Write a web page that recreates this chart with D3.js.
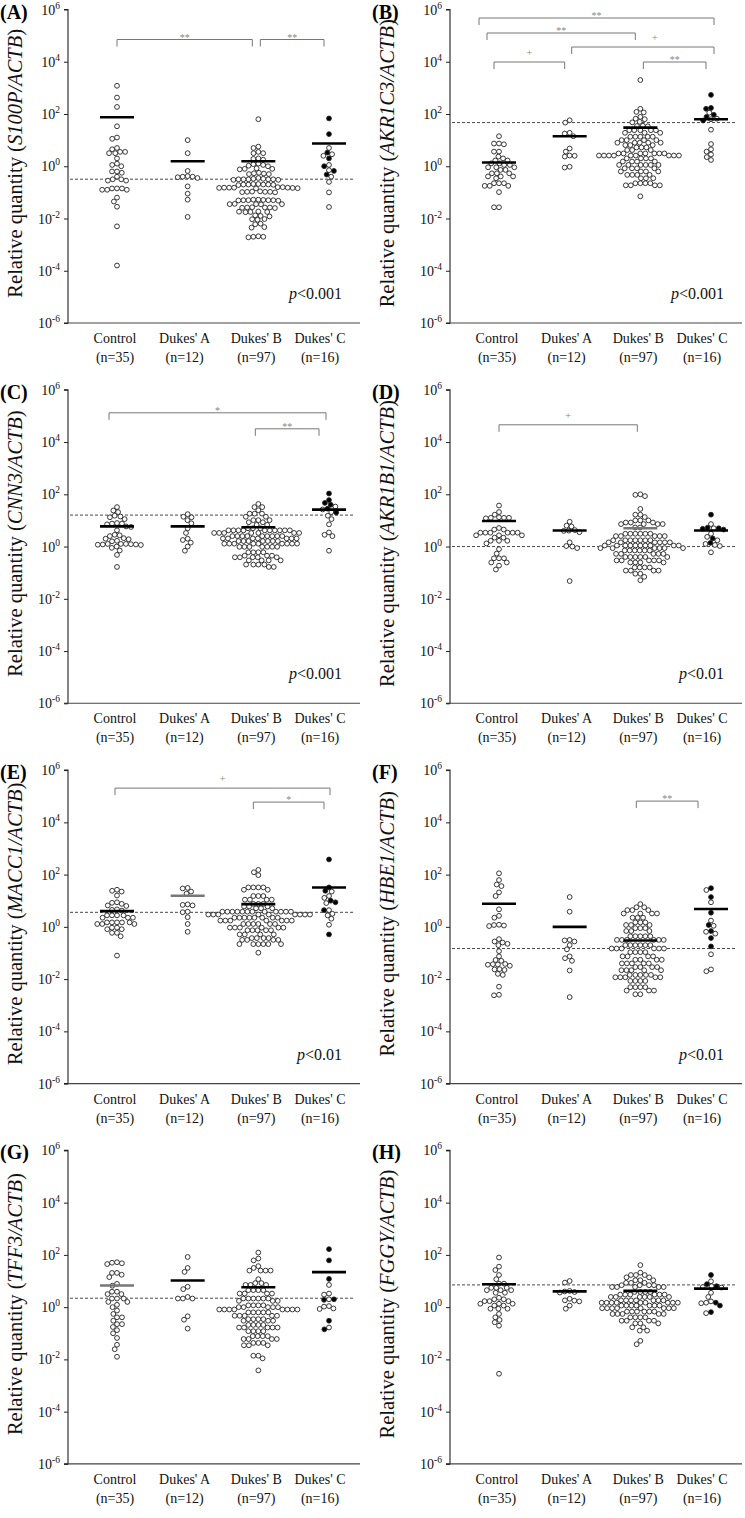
<!DOCTYPE html>
<meta charset="utf-8">
<script src="https://d3js.org/d3.v7.min.js"></script>
<style>
  body { margin: 0; background: #fff; }
  svg text { font-family: "Liberation Serif", "Times New Roman", serif; }
</style>
<div id="chart"></div>
<script>

// categories and labels
var groups = ["Control", "Dukes' A", "Dukes' B", "Dukes' C"];
var groupN = ["(n=35)", "(n=12)", "(n=97)", "(n=16)"];
var panelLetters = ["A", "B", "C", "D", "E", "F", "G", "H"];
var genes = ["S100P", "AKR1C3", "CNN3", "AKR1B1", "MACC1", "HBE1", "TFF3", "FGGY"];
var tickValues = [1e6, 1e4, 1e2, 1, 1e-2, 1e-4, 1e-6];
var tickExp = ["6", "4", "2", "0", "-2", "-4", "-6"];

// values are log10(relative quantity)
var S100P_control = [3.08,2.63,2.27,1.53,1.1,1.05,0.7,0.65,0.55,0.55,0.5,0.5,0.3,0.1,0.05,0,-0.2,-0.2,-0.25,-0.4,-0.5,-0.5,-0.55,-0.55,-0.85,-0.85,-0.9,-0.9,-0.85,-0.9,-1.2,-1.35,-1.55,-2.3,-3.8];
var S100P_dukesA = [1,0.5,-0.18,-0.38,-0.4,-0.4,-0.42,-0.45,-0.77,-1.05,-1.28,-1.94];
var S100P_dukesB = [1.8,0.75,0.7,0.55,0.5,0.5,0.3,0.28,0.25,0.1,0.08,0.05,0.02,0,-0.1,-0.08,-0.12,-0.1,-0.25,-0.28,-0.3,-0.27,-0.3,-0.45,-0.48,-0.5,-0.5,-0.52,-0.5,-0.48,-0.5,-0.52,-0.5,-0.68,-0.7,-0.72,-0.7,-0.68,-0.7,-0.71,-0.7,-0.82,-0.8,-0.83,-0.82,-0.84,-0.82,-0.8,-0.83,-0.82,-0.85,-0.98,-0.97,-1,-0.98,-0.96,-0.99,-0.98,-1.28,-1.3,-1.3,-1.32,-1.3,-1.29,-1.31,-1.3,-1.28,-1.45,-1.44,-1.46,-1.45,-1.45,-1.58,-1.57,-1.6,-1.58,-1.59,-1.58,-1.75,-1.73,-1.76,-1.75,-1.74,-1.9,-1.88,-1.92,-2.03,-2.02,-2.05,-2.2,-2.22,-2.35,-2.33,-2.7,-2.72,-2.68,-2.7];
var S100P_dukesC_open = [0.7,0.46,0.4,0.05,-0.15,-0.4,-0.6,-1,-1.56];
var S100P_dukesC_filled = [1.83,1.23,0.52,0.3,0,-0.18,-0.32];

var AKR1C3_control = [1.15,0.87,0.87,0.84,0.56,0.56,0.37,0.3,0.22,0.22,0.11,0.11,0.05,0.05,-0.04,-0.04,-0.04,-0.14,-0.14,-0.27,-0.27,-0.27,-0.39,-0.39,-0.39,-0.46,-0.65,-0.65,-0.65,-0.75,-0.75,-0.75,-0.99,-1.57,-1.57];
var AKR1C3_dukesA = [1.76,1.67,1.28,1.25,1.15,0.68,0.56,0.41,0.4,0.37,-0.02,-0.05];
var AKR1C3_dukesB = [3.3,2.2,2.08,2.06,1.89,1.82,1.8,1.7,1.68,1.54,1.55,1.53,1.38,1.38,1.38,1.38,1.38,1.28,1.28,1.28,1.13,1.13,1.13,1.13,1.13,1,1,1,1,0.9,0.9,0.9,0.9,0.9,0.81,0.81,0.81,0.72,0.72,0.72,0.62,0.62,0.62,0.49,0.49,0.49,0.49,0.49,0.49,0.49,0.41,0.41,0.41,0.41,0.41,0.41,0.41,0.41,0.41,0.3,0.3,0.3,0.3,0.18,0.18,0.18,0.18,0.05,0.05,0.05,0.05,0.05,0.05,-0.08,-0.08,-0.08,-0.08,-0.2,-0.2,-0.2,-0.2,-0.33,-0.33,-0.33,-0.33,-0.46,-0.46,-0.46,-0.65,-0.65,-0.65,-0.65,-0.73,-0.73,-0.73,-0.73,-1.15];
var AKR1C3_dukesC_open = [2.05,1.82,1.8,1.4,0.85,0.65,0.56,0.45,0.35,0.24];
var AKR1C3_dukesC_filled = [2.73,2.23,2.2,1.97,1.89,1.75];

var CNN3_control = [1.51,1.38,1.32,1.18,1.15,1.12,1.05,0.9,0.88,0.88,0.85,0.77,0.75,0.62,0.45,0.43,0.4,0.32,0.3,0.28,0.22,0.2,0.1,0.08,0.1,0.07,0.09,0.08,0.06,0.1,0,-0.05,-0.15,-0.32,-0.78];
var CNN3_dukesA = [1.24,1.14,1.12,1.01,0.89,0.7,0.52,0.3,0.25,0.15,0,-0.16];
var CNN3_dukesB = [1.63,1.51,1.51,1.39,1.26,1.26,1.26,1.14,1.14,1.01,1.01,1.01,0.93,0.93,0.83,0.83,0.7,0.7,0.7,0.62,0.62,0.62,0.62,0.62,0.62,0.62,0.62,0.62,0.62,0.52,0.52,0.52,0.52,0.52,0.52,0.52,0.4,0.4,0.4,0.4,0.4,0.4,0.4,0.4,0.4,0.31,0.31,0.31,0.31,0.31,0.31,0.31,0.21,0.21,0.21,0.21,0.21,0.21,0.21,0.11,0.11,0.11,0.11,0.11,0.11,0.11,0.11,0.11,-0.01,-0.01,-0.01,-0.01,-0.01,-0.01,-0.01,-0.22,-0.22,-0.22,-0.22,-0.35,-0.35,-0.35,-0.41,-0.41,-0.41,-0.41,-0.41,-0.53,-0.53,-0.53,-0.53,-0.69,-0.69,-0.69,-0.69,-0.78,-0.78];
var CNN3_dukesC_open = [1.53,1.42,1.32,1.18,1.05,0.85,0.54,0.45,0.4,-0.16];
var CNN3_dukesC_filled = [2.03,1.78,1.67,1.6,1.45,1.3];

var AKR1B1_control = [1.57,1.32,1.22,1.12,1.1,1.1,1.08,1.1,0.71,0.65,0.65,0.53,0.53,0.53,0.53,0.53,0.53,0.43,0.43,0.43,0.34,0.34,0.22,0.22,0.22,0.12,-0.1,-0.27,-0.45,-0.45,-0.45,-0.61,-0.61,-0.73,-0.88];
var AKR1B1_dukesA = [0.95,0.8,0.77,0.63,0.61,0.6,0.55,0.16,0.02,0,-0.06,-1.32];
var AKR1B1_dukesB = [2,1.98,1.93,1.44,1.22,1.22,1.13,1,1,1,0.92,0.92,0.92,0.86,0.86,0.86,0.86,0.73,0.73,0.49,0.49,0.49,0.49,0.49,0.49,0.4,0.4,0.4,0.4,0.4,0.24,0.24,0.24,0.24,0.24,0.24,0.24,0.16,0.16,0.16,0.16,0.16,0.16,0.04,0.04,0.04,0.04,0.04,0.04,0.04,0.04,0.04,0.04,-0.06,-0.06,-0.06,-0.06,-0.06,-0.06,-0.15,-0.15,-0.15,-0.15,-0.15,-0.15,-0.28,-0.28,-0.28,-0.28,-0.28,-0.4,-0.4,-0.4,-0.4,-0.4,-0.4,-0.53,-0.53,-0.53,-0.53,-0.53,-0.61,-0.61,-0.61,-0.61,-0.8,-0.8,-0.8,-0.8,-0.92,-0.92,-0.92,-0.92,-1.04,-1.04,-1.16,-1.29];
var AKR1B1_dukesC_open = [0.86,0.7,0.49,0.37,0.24,0.1,0.06,0.02,-0.22];
var AKR1B1_dukesC_filled = [1.22,0.72,0.7,0.68,0.65,0.31,0.14];

var MACC1_control = [1.42,1.38,1.35,1.2,0.94,0.92,0.88,0.82,0.8,0.67,0.65,0.62,0.44,0.44,0.44,0.44,0.35,0.35,0.35,0.17,0.17,0.17,0.17,0.17,0.11,0.11,0.11,-0.03,-0.03,-0.09,-0.09,-0.23,-0.23,-0.36,-1.1];
var MACC1_dukesA = [1.49,1.47,1.35,1.27,0.86,0.84,0.82,0.58,0.56,0.37,0.11,-0.19];
var MACC1_dukesB = [2.18,2.09,1.98,1.51,1.51,1.51,1.51,1.42,1.42,1.18,1.18,1.18,1.04,1.04,1.04,1.04,0.88,0.88,0.88,0.78,0.78,0.78,0.71,0.71,0.71,0.58,0.58,0.58,0.58,0.58,0.58,0.58,0.58,0.58,0.58,0.58,0.58,0.47,0.47,0.47,0.47,0.47,0.47,0.47,0.47,0.47,0.35,0.35,0.35,0.35,0.35,0.35,0.35,0.35,0.24,0.24,0.24,0.24,0.24,0.24,0.24,0.11,0.11,0.11,0.11,0.11,0.11,-0.03,-0.03,-0.03,-0.03,-0.03,-0.03,-0.13,-0.13,-0.13,-0.13,-0.13,-0.29,-0.29,-0.29,-0.29,-0.43,-0.43,-0.43,-0.43,-0.5,-0.5,-0.5,-0.5,-0.66,-0.66,-0.66,-0.66,-0.66,-0.66,-0.99];
var MACC1_dukesC_open = [1.35,1.18,1.11,0.91,0.64,0.5,0.44,0.31,0.08];
var MACC1_dukesC_filled = [2.58,1.51,1.38,1,0.94,0.64,-0.29];

var HBE1_control = [2.05,1.79,1.62,1.56,1.32,1.18,0.67,0.42,0.35,0.07,0.05,0.03,0.08,-0.47,-0.56,-0.6,-0.65,-0.7,-0.93,-1.13,-1.27,-1.3,-1.43,-1.45,-1.42,-1.44,-1.49,-1.63,-1.62,-1.65,-1.8,-1.84,-2.29,-2.6,-2.62];
var HBE1_dukesA = [1.14,0.58,-0.5,-0.52,-0.56,-0.7,-0.86,-1.13,-1.2,-1.3,-1.67,-2.69];
var HBE1_dukesB = [0.87,0.75,0.75,0.64,0.64,0.64,0.51,0.51,0.51,0.51,0.35,0.35,0.35,0.17,0.17,0.17,0.07,0.07,0.07,-0.05,-0.05,-0.05,-0.16,-0.16,-0.16,-0.36,-0.36,-0.36,-0.36,-0.36,-0.5,-0.5,-0.5,-0.5,-0.5,-0.5,-0.7,-0.7,-0.7,-0.7,-0.7,-0.7,-0.83,-0.83,-0.83,-0.83,-0.83,-0.83,-0.97,-0.97,-0.97,-0.97,-1.13,-1.13,-1.13,-1.13,-1.26,-1.26,-1.26,-1.26,-1.4,-1.4,-1.4,-1.4,-1.4,-1.54,-1.54,-1.54,-1.54,-1.66,-1.66,-1.66,-1.66,-1.66,-1.84,-1.84,-1.84,-1.84,-1.84,-1.93,-1.93,-1.93,-1.93,-1.93,-2.07,-2.07,-2.07,-2.07,-2.31,-2.31,-2.31,-2.31,-2.44,-2.44,-2.44,-2.58,-2.58];
var HBE1_dukesC_open = [1.41,0.94,0.24,0.04,-0.19,-0.26,-1.05,-1.63,-1.7];
var HBE1_dukesC_filled = [1.48,1.14,0.54,0.07,-0.16,-0.43,-0.75];

var TFF3_control = [1.72,1.68,1.65,1.7,1.31,1.31,1.24,1.15,0.89,0.82,0.59,0.59,0.5,0.5,0.33,0.33,0.33,0.2,0.2,0.09,0,-0.13,-0.26,-0.39,-0.39,-0.52,-0.65,-0.65,-0.76,-0.88,-1,-1.18,-1.44,-1.61,-1.9];
var TFF3_dukesA = [1.92,1.5,1.35,0.78,0.69,0.39,0.33,0.33,0.33,-0.35,-0.48,-0.82];
var TFF3_dukesB = [2.09,1.86,1.79,1.57,1.5,1.4,1.4,1.4,1.4,1.07,0.92,0.92,0.85,0.85,0.85,0.65,0.65,0.65,0.65,0.52,0.52,0.52,0.52,0.33,0.33,0.33,0.33,0.33,0.33,0.24,0.24,0.24,0.07,0.07,0.07,0.07,0,0,0,0,0,-0.09,-0.09,-0.09,-0.09,-0.09,-0.09,-0.09,-0.09,-0.2,-0.2,-0.2,-0.2,-0.2,-0.33,-0.33,-0.33,-0.33,-0.33,-0.46,-0.46,-0.46,-0.46,-0.52,-0.52,-0.52,-0.68,-0.68,-0.68,-0.68,-0.78,-0.78,-0.78,-0.78,-0.78,-0.92,-0.92,-0.92,-0.92,-1.11,-1.11,-1.11,-1.11,-1.22,-1.22,-1.22,-1.22,-1.37,-1.37,-1.37,-1.46,-1.46,-1.46,-1.86,-1.86,-1.96,-2.42];
var TFF3_dukesC_open = [0.85,0.52,0.48,0.3,0.04,0.02,-0.07,-0.05,-0.78];
var TFF3_dukesC_filled = [2.22,1.79,1.08,0.3,0.28,-0.52,-0.85];

var FGGY_control = [1.9,1.55,1.42,1.23,1.07,0.9,0.9,0.74,0.74,0.74,0.65,0.65,0.65,0.55,0.55,0.36,0.3,0.3,0.23,0.23,0.23,0.13,0.13,0.13,0.06,0.06,-0.06,-0.06,-0.06,-0.26,-0.39,-0.49,-0.58,-0.71,-2.55];
var FGGY_dukesA = [1,0.94,0.62,0.6,0.58,0.56,0.32,0.26,0.25,0.22,0.06,-0.06];
var FGGY_dukesB = [1.61,1.32,1.23,1.23,1.23,1.14,1.14,1.03,1.03,1.03,0.93,0.93,0.93,0.84,0.84,0.84,0.84,0.77,0.77,0.77,0.77,0.77,0.58,0.58,0.58,0.58,0.48,0.48,0.48,0.48,0.48,0.48,0.39,0.39,0.39,0.39,0.39,0.39,0.26,0.26,0.26,0.26,0.26,0.26,0.26,0.17,0.17,0.17,0.17,0.17,0.17,0.17,0.17,0.17,0.06,0.06,0.06,0.06,0.06,0.06,0.06,-0.04,-0.04,-0.04,-0.04,-0.04,-0.04,-0.04,-0.04,-0.17,-0.17,-0.17,-0.17,-0.17,-0.17,-0.26,-0.26,-0.26,-0.26,-0.26,-0.39,-0.39,-0.39,-0.39,-0.52,-0.52,-0.52,-0.52,-0.62,-0.62,-0.62,-0.77,-0.77,-0.9,-0.9,-1.29,-1.42];
var FGGY_dukesC_open = [0.99,0.8,0.77,0.75,0.55,0.39,0.22,0.17,0.15,-0.23];
var FGGY_dukesC_filled = [1.23,0.88,0.8,0.17,0.06,-0.19];

// group means (horizontal bars), relative quantity
var S100P_mean = [75, 1.55, 1.55, 7.4];
var AKR1C3_mean = [1.4, 14, 30, 63];
var CNN3_mean = [5.9, 5.9, 5.5, 26];
var AKR1B1_mean = [9.5, 4.1, 5.0, 4.1];
var MACC1_mean = [4.0, 15.5, 7.4, 32];
var HBE1_mean = [7.7, 1.0, 0.3, 4.8];
var TFF3_mean = [6.7, 10.5, 5.8, 22];
var FGGY_mean = [7.5, 4.0, 4.2, 5.1];

// dashed cut-off line for each gene
var cutoffs = [0.32, 47, 16, 1.0, 3.6, 0.148, 2.2, 7.1];
var pLabels = ["<0.001", "<0.001", "<0.001", "<0.01", "<0.01", "<0.01", "", ""];

// significance brackets: group indexes and label
var S100P_sig = [[0, 2, "**"], [2, 3, "**"]];
var AKR1C3_sig = [[0, 3, "**"], [0, 2, "**"], [1, 3, "+"], [0, 1, "+"], [2, 3, "**"]];
var CNN3_sig = [[0, 3, "*"], [2, 3, "**"]];
var AKR1B1_sig = [[0, 2, "+"]];
var MACC1_sig = [[0, 3, "+"], [2, 3, "*"]];
var HBE1_sig = [[2, 3, "**"]];
var TFF3_sig = [];
var FGGY_sig = [];

// bracket layout (px below the top tick, end nudges, label nudge)
var sigLayout = {
  S100P: [[30, 0, -6, 0], [30, 2, -5, 0]],
  AKR1C3: [[8.5, -20, 3, 0], [23.5, -12, -5, 0], [37.5, 2, 3, 12], [52.5, -5, -5, 0], [52.5, 3, -5, 0]],
  CNN3: [[23, -8, -3, 0], [39, -3, -10, 0]],
  AKR1B1: [[35, 0, -3, 0]],
  MACC1: [[18, -2, 1, 0], [32, -5, -5, 0]],
  HBE1: [[31, -4, -13, 0]],
  TFF3: [], FGGY: []
};
var greyBars = {AKR1B1: 2, MACC1: 1, TFF3: 0};

var panels = [
  {c: S100P_control, a: S100P_dukesA, b: S100P_dukesB, co: S100P_dukesC_open, cf: S100P_dukesC_filled, mean: S100P_mean, sig: S100P_sig},
  {c: AKR1C3_control, a: AKR1C3_dukesA, b: AKR1C3_dukesB, co: AKR1C3_dukesC_open, cf: AKR1C3_dukesC_filled, mean: AKR1C3_mean, sig: AKR1C3_sig},
  {c: CNN3_control, a: CNN3_dukesA, b: CNN3_dukesB, co: CNN3_dukesC_open, cf: CNN3_dukesC_filled, mean: CNN3_mean, sig: CNN3_sig},
  {c: AKR1B1_control, a: AKR1B1_dukesA, b: AKR1B1_dukesB, co: AKR1B1_dukesC_open, cf: AKR1B1_dukesC_filled, mean: AKR1B1_mean, sig: AKR1B1_sig},
  {c: MACC1_control, a: MACC1_dukesA, b: MACC1_dukesB, co: MACC1_dukesC_open, cf: MACC1_dukesC_filled, mean: MACC1_mean, sig: MACC1_sig},
  {c: HBE1_control, a: HBE1_dukesA, b: HBE1_dukesB, co: HBE1_dukesC_open, cf: HBE1_dukesC_filled, mean: HBE1_mean, sig: HBE1_sig},
  {c: TFF3_control, a: TFF3_dukesA, b: TFF3_dukesB, co: TFF3_dukesC_open, cf: TFF3_dukesC_filled, mean: TFF3_mean, sig: TFF3_sig},
  {c: FGGY_control, a: FGGY_dukesA, b: FGGY_dukesB, co: FGGY_dukesC_open, cf: FGGY_dukesC_filled, mean: FGGY_mean, sig: FGGY_sig}
];

var W = 745, H = 1518;
var svg = d3.select("#chart").append("svg")
  .attr("width", W).attr("height", H);

var R = 2.4, D = 5.0;

// simple beeswarm: push each point sideways until it does not overlap
function swarm(pts) {
  var order = pts.slice().sort(function(p, q) { return p.y - q.y; });
  var placed = [];
  order.forEach(function(p) {
    var blocks = [];
    placed.forEach(function(q) {
      var dy = Math.abs(q.y - p.y);
      if (dy < D) {
        var w = Math.sqrt(D * D - dy * dy);
        blocks.push([q.dx - w, q.dx + w]);
      }
    });
    var cands = [0];
    blocks.forEach(function(b) { cands.push(b[0], b[1]); });
    cands.sort(function(u, v) { return Math.abs(u) - Math.abs(v); });
    for (var i = 0; i < cands.length; i++) {
      var c = cands[i];
      var ok = blocks.every(function(b) { return c <= b[0] + 1e-6 || c >= b[1] - 1e-6; });
      if (ok) { p.dx = c; break; }
    }
    placed.push(p);
  });
  return pts;
}

panels.forEach(function(P, k) {
  var col = k % 2, row = Math.floor(k / 2);
  var axisX = col ? 450 : 68;
  var leftX = col ? 372 : 0;
  var top = 9.5 + row * 380.3;
  var bottom = top + 313.5;
  var gene = genes[k];

  var y = d3.scaleLog().domain([1e-6, 1e6]).range([bottom, top]);
  var x = d3.scalePoint().domain(groups).range([axisX + 49, axisX + 261]);

  var g = svg.append("g");

  // y axis
  var yAxis = d3.axisLeft(y).tickValues(tickValues).tickSize(4).tickFormat("");
  var ax = g.append("g").attr("transform", "translate(" + axisX + ",0)").call(yAxis);
  ax.select(".domain").attr("stroke", "#222").attr("stroke-width", 1.1).attr("d", "M-4," + top + "H0V" + bottom + "H-4");
  ax.selectAll(".tick line").attr("stroke", "#222");

  // tick labels 10^n
  tickValues.forEach(function(t, i) {
    var tx = g.append("text")
      .attr("x", axisX - 8).attr("y", y(t) + 5)
      .attr("text-anchor", "end").attr("font-size", 14).attr("fill", "#111");
    tx.append("tspan").text("10");
    tx.append("tspan").attr("dy", -6).attr("font-size", 9.5).text(tickExp[i]);
  });

  // x axis line
  g.append("line")
    .attr("x1", axisX).attr("x2", axisX + 292)
    .attr("y1", bottom).attr("y2", bottom)
    .attr("stroke", "#444").attr("stroke-width", 1.1);

  // category labels
  var labShift = [-2, -3, -2, -9];
  groups.forEach(function(name, i) {
    g.append("text").attr("x", x(name) + labShift[i]).attr("y", bottom + 20)
      .attr("text-anchor", "middle").attr("font-size", 14).attr("fill", "#111").text(name);
    g.append("text").attr("x", x(name) + labShift[i]).attr("y", bottom + 39)
      .attr("text-anchor", "middle").attr("font-size", 14).attr("fill", "#111").text(groupN[i]);
  });

  // panel letter
  g.append("text").attr("x", leftX).attr("y", top + 9)
    .attr("font-size", 20).attr("font-weight", "bold").attr("fill", "#000")
    .text("(" + panelLetters[k] + ")");

  // y title
  var cy = (top + bottom) / 2 - 3;
  var tt = g.append("text")
    .attr("transform", "translate(" + (leftX + 22) + "," + cy + ") rotate(-90)")
    .attr("text-anchor", "middle").attr("font-size", 20.5).attr("fill", "#111");
  tt.append("tspan").text("Relative quantity (");
  tt.append("tspan").attr("font-style", "italic").text(gene + "/ACTB");
  tt.append("tspan").text(")");

  // dashed cut-off
  g.append("line")
    .attr("x1", axisX + 2).attr("x2", axisX + 286)
    .attr("y1", y(cutoffs[k])).attr("y2", y(cutoffs[k]))
    .attr("stroke", "#333").attr("stroke-width", 0.9)
    .attr("stroke-dasharray", "3,2");

  // significance brackets
  P.sig.forEach(function(s, i) {
    var L = sigLayout[gene][i];
    var by = top + L[0];
    var x1 = x(groups[s[0]]) + L[1], x2 = x(groups[s[1]]) + L[2];
    g.append("path")
      .attr("d", "M" + x1 + "," + (by + 7) + "V" + by + "H" + x2 + "V" + (by + 7))
      .attr("fill", "none").attr("stroke", "#777").attr("stroke-width", 1);
    var isPlus = s[2] === "+";
    g.append("text")
      .attr("x", (x1 + x2) / 2 + L[3]).attr("y", isPlus ? by - 6 : by + 1)
      .attr("text-anchor", "middle").attr("font-size", isPlus ? 11 : 10)
      .attr("fill", "#888").text(s[2]);
  });

  // points
  var sets = [
    P.c.map(function(v) { return {e: v, f: false}; }),
    P.a.map(function(v) { return {e: v, f: false}; }),
    P.b.map(function(v) { return {e: v, f: false}; }),
    P.co.map(function(v) { return {e: v, f: false}; }).concat(P.cf.map(function(v) { return {e: v, f: true}; }))
  ];
  sets.forEach(function(set, i) {
    var pts = set.map(function(d) { return {y: y(Math.pow(10, d.e)), f: d.f, dx: 0}; });
    swarm(pts);
    g.append("g").selectAll("circle").data(pts).enter().append("circle")
      .attr("cx", function(d) { return x(groups[i]) + d.dx; })
      .attr("cy", function(d) { return d.y; })
      .attr("r", R)
      .attr("fill", function(d) { return d.f ? "#000" : "#fff"; })
      .attr("stroke", "#222").attr("stroke-width", 0.9);
  });

  // mean bars
  P.mean.forEach(function(m, i) {
    g.append("line")
      .attr("x1", x(groups[i]) - 17).attr("x2", x(groups[i]) + 17)
      .attr("y1", y(m)).attr("y2", y(m))
      .attr("stroke", greyBars[gene] === i ? "#777" : "#000")
      .attr("stroke-width", 2.6);
  });

  // p value
  if (pLabels[k]) {
    var pt = g.append("text").attr("x", axisX + 274).attr("y", bottom - 24)
      .attr("text-anchor", "end").attr("font-size", 16).attr("fill", "#111");
    pt.append("tspan").attr("font-style", "italic").text("p");
    pt.append("tspan").text(pLabels[k]);
  }
});

</script>
